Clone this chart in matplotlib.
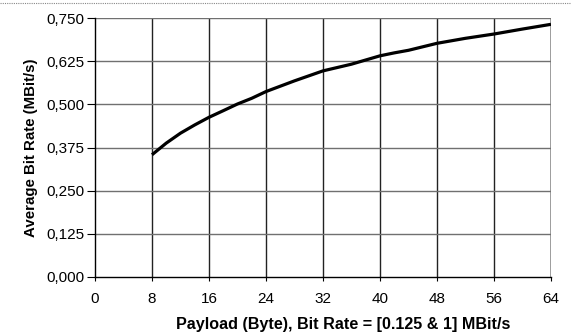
import matplotlib
matplotlib.use("Agg")
import matplotlib.pyplot as plt
from matplotlib.lines import Line2D

payload = [8, 10, 12, 14, 16, 18, 20, 22, 24, 28, 32, 36, 40, 42, 44, 48, 52, 56, 60, 64]
bitrate = [0.354, 0.3877, 0.4165, 0.4404, 0.4625, 0.4816, 0.501, 0.5175, 0.537,
           0.568, 0.5969, 0.6163, 0.6405, 0.649, 0.6565, 0.6767, 0.6912, 0.7036,
           0.718, 0.7317]
xticks = [0, 8, 16, 24, 32, 40, 48, 56, 64]
yticks = [0.0, 0.125, 0.25, 0.375, 0.5, 0.625, 0.75]
ytick_labels = ["0,000", "0,125", "0,250", "0,375", "0,500", "0,625", "0,750"]

plt.rcParams['font.family'] = ['Liberation Sans', 'DejaVu Sans']
W, H = 571, 334
fig = plt.figure(figsize=(W/100, H/100), dpi=100)
ax = fig.add_axes([95/W, (H-277)/H, (551-95)/W, (277-18)/H])

ax.plot(payload, bitrate, color='black', lw=2.3, solid_capstyle='butt',
        solid_joinstyle='round')
ax.set_xlim(0, 64)
ax.set_ylim(0, 0.75)
ax.set_xticks(xticks)
ax.set_yticks(yticks)
ax.set_yticklabels(ytick_labels)
for x in xticks[1:]:
    ax.axvline(x, color='#222222' if x < 64 else '#808080', lw=1.0 if x < 64 else 1.8, zorder=0)
for y in yticks[1:]:
    ax.axhline(y, color='#707070', lw=1.0, zorder=0)
for s in ['top', 'right']:
    ax.spines[s].set_visible(False)
ax.spines['left'].set_linewidth(1.0)
ax.spines['bottom'].set_linewidth(1.0)
ax.tick_params(axis='y', direction='out', length=6, labelsize=11, pad=1.5)
ax.tick_params(axis='x', direction='out', length=3, labelsize=11, pad=8)
ax.set_ylabel("Average Bit Rate (MBit/s)", fontsize=10.8, fontweight='bold', labelpad=6)
ax.set_xlabel("Payload (Byte), Bit Rate = [0.125 & 1] MBit/s", fontsize=11.6,
              fontweight='bold')
ax.xaxis.set_label_coords((343 - 95) / 456, -(325 - 277) / 259, transform=ax.transAxes)
ax.xaxis.label.set_verticalalignment('center')

fig.add_artist(Line2D([0, 1], [1 - 2.5/H, 1 - 2.5/H], transform=fig.transFigure,
                      color='#888888', lw=0.8, ls=(0, (1, 1))))
fig.savefig("out.png", dpi=100)
